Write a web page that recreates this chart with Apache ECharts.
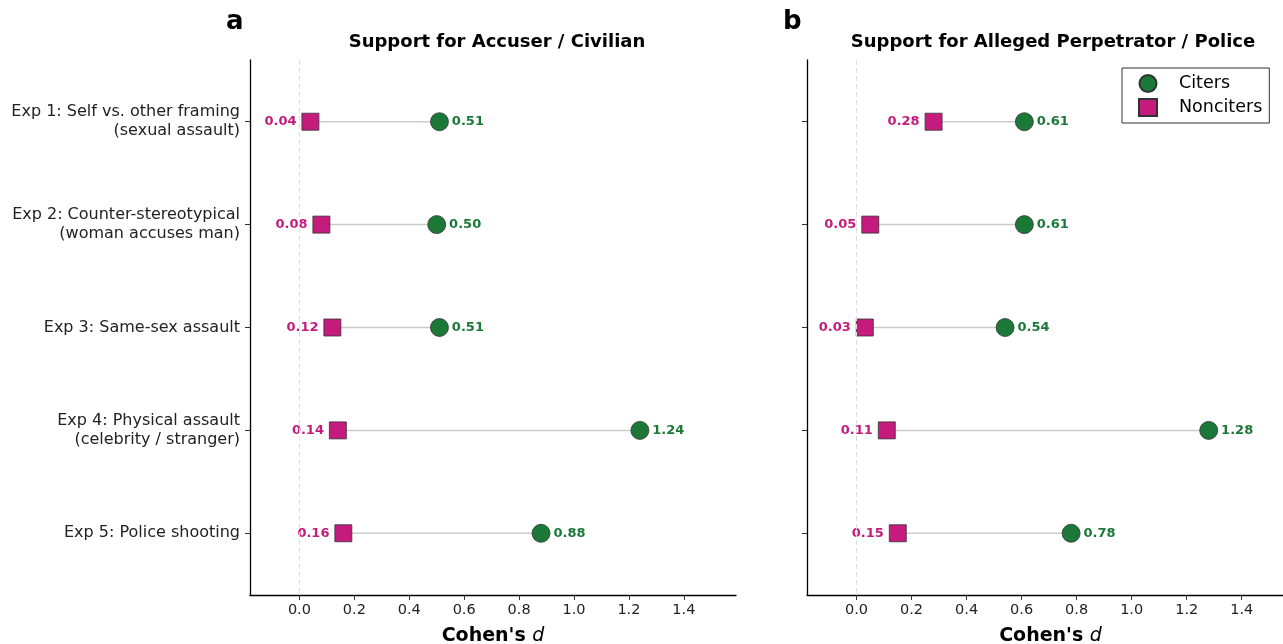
<!DOCTYPE html>
<html>
<head>
<meta charset="utf-8">
<script src="https://cdn.jsdelivr.net/npm/echarts@6/dist/echarts.min.js"></script>
<style>
  html, body { margin: 0; padding: 0; background: #fff; }
  #chart { width: 1283px; height: 644px; }
</style>
</head>
<body>
<div id="chart"></div>
<script>
// Experiments (top to bottom)
const experiments = [
  'Exp 1: Self vs. other framing\n(sexual assault)',
  'Exp 2: Counter-stereotypical\n(woman accuses man)',
  'Exp 3: Same-sex assault',
  'Exp 4: Physical assault\n(celebrity / stranger)',
  'Exp 5: Police shooting'
];

// Panel a: support for accuser / civilian (Cohen's d)
const accuserCiters = [0.51, 0.50, 0.51, 1.24, 0.88];
const accuserNonciters = [0.04, 0.08, 0.12, 0.14, 0.16];

// Panel b: support for alleged perpetrator / police (Cohen's d)
const perpCiters = [0.61, 0.61, 0.54, 1.28, 0.78];
const perpNonciters = [0.28, 0.05, 0.03, 0.11, 0.15];

const xTicks = [0, 0.2, 0.4, 0.6, 0.8, 1.0, 1.2, 1.4];

const GREEN = '#1b7837';
const MAGENTA = '#c51b7d';
const FONT = 'DejaVu Sans';

const chart = echarts.init(document.getElementById('chart'), null, { renderer: 'canvas' });

function xAxisFor(gridIndex) {
  return {
    gridIndex,
    type: 'value',
    min: -0.18,
    max: 1.59,
    axisLine: { show: true, onZero: false, lineStyle: { color: '#000', width: 1.3 } },
    axisTick: { show: true, length: 5, lineStyle: { color: '#333', width: 1 }, customValues: xTicks },
    axisLabel: {
      customValues: xTicks,
      formatter: v => v.toFixed(1),
      fontFamily: FONT, fontSize: 14.5, color: '#222', margin: 8
    },
    splitLine: { show: false },
    name: "{b|Cohen's }{i|d}",
    nameLocation: 'middle',
    nameGap: 32,
    nameTextStyle: {
      rich: {
        b: { fontFamily: FONT, fontWeight: 'bold', fontSize: 19, color: '#000' },
        i: { fontFamily: FONT, fontStyle: 'italic', fontSize: 19, color: '#000' }
      }
    }
  };
}

function yAxisFor(gridIndex, showLabels) {
  return {
    gridIndex,
    type: 'value',
    inverse: true,
    min: -0.6,
    max: 4.6,
    axisLine: { show: true, onZero: false, lineStyle: { color: '#000', width: 1.3 } },
    axisTick: { show: true, length: 5, lineStyle: { color: '#333', width: 1 }, customValues: [0, 1, 2, 3, 4] },
    axisLabel: {
      show: showLabels,
      customValues: [0, 1, 2, 3, 4],
      formatter: v => experiments[Math.round(v)],
      fontFamily: FONT, fontSize: 16, color: '#222', lineHeight: 19, margin: 10, align: 'right'
    },
    splitLine: { show: false }
  };
}

function panelSeries(idx, citers, nonciters) {
  const rows = citers.map((c, i) => [nonciters[i], c, i]);
  return [
    {
      type: 'custom',
      xAxisIndex: idx, yAxisIndex: idx,
      silent: true,
      z: 1,
      data: rows,
      renderItem: (params, api) => {
        const p0 = api.coord([api.value(0), api.value(2)]);
        const p1 = api.coord([api.value(1), api.value(2)]);
        return {
          type: 'line',
          shape: { x1: p0[0], y1: p0[1], x2: p1[0], y2: p1[1] },
          style: { stroke: '#cccccc', lineWidth: 1.5 }
        };
      },
      markLine: {
        silent: true,
        symbol: 'none',
        label: { show: false },
        lineStyle: { color: '#dddddd', type: [5, 3], width: 1 },
        data: [{ xAxis: 0 }]
      }
    },
    {
      name: 'Citers',
      type: 'scatter',
      xAxisIndex: idx, yAxisIndex: idx,
      symbol: 'circle',
      symbolSize: 18,
      z: 3,
      itemStyle: { color: GREEN, borderColor: '#333', borderWidth: 0.8, opacity: 1 },
      data: citers.map((v, i) => [v, i]),
      label: {
        show: true,
        position: 'right',
        distance: 3,
        formatter: p => p.value[0].toFixed(2),
        fontFamily: FONT, fontWeight: 'bold', fontSize: 13, color: GREEN
      }
    },
    {
      name: 'Nonciters',
      type: 'scatter',
      xAxisIndex: idx, yAxisIndex: idx,
      symbol: 'rect',
      symbolSize: 17,
      z: 3,
      itemStyle: { color: MAGENTA, borderColor: '#333', borderWidth: 0.8, opacity: 1 },
      data: nonciters.map((v, i) => [v, i]),
      label: {
        show: true,
        position: 'left',
        distance: 5,
        formatter: p => p.value[0].toFixed(2),
        fontFamily: FONT, fontWeight: 'bold', fontSize: 13, color: MAGENTA
      }
    }
  ];
}

const option = {
  backgroundColor: '#fff',
  animation: false,
  textStyle: { fontFamily: FONT },
  title: [
    { text: 'a', left: 221, top: 4, textStyle: { fontFamily: FONT, fontWeight: 'bold', fontSize: 26, color: '#000' } },
    { text: 'b', left: 778, top: 4, textStyle: { fontFamily: FONT, fontWeight: 'bold', fontSize: 26, color: '#000' } },
    { text: 'Support for Accuser / Civilian', left: 492, top: 28, textAlign: 'center',
      textStyle: { fontFamily: FONT, fontWeight: 'bold', fontSize: 18, color: '#000' } },
    { text: 'Support for Alleged Perpetrator / Police', left: 1048, top: 28, textAlign: 'center',
      textStyle: { fontFamily: FONT, fontWeight: 'bold', fontSize: 18, color: '#000' } }
  ],
  legend: {
    orient: 'vertical',
    left: 1122,
    top: 68,
    data: ['Citers', 'Nonciters'],
    borderColor: '#333',
    borderWidth: 1,
    borderRadius: 0,
    padding: [6, 7, 6, 16],
    itemGap: 5,
    itemWidth: 18,
    itemHeight: 17,
    textStyle: { fontFamily: FONT, fontSize: 17.5, color: '#000', padding: [0, 0, 0, 17] }
  },
  grid: [
    { left: 250, top: 60, width: 486, height: 535, outerBoundsMode: 'none', containLabel: false },
    { left: 807, top: 60, width: 487, height: 535, outerBoundsMode: 'none', containLabel: false }
  ],
  xAxis: [xAxisFor(0), xAxisFor(1)],
  yAxis: [yAxisFor(0, true), yAxisFor(1, false)],
  series: [
    ...panelSeries(0, accuserCiters, accuserNonciters),
    ...panelSeries(1, perpCiters, perpNonciters)
  ]
};

chart.setOption(option);
</script>
</body>
</html>
